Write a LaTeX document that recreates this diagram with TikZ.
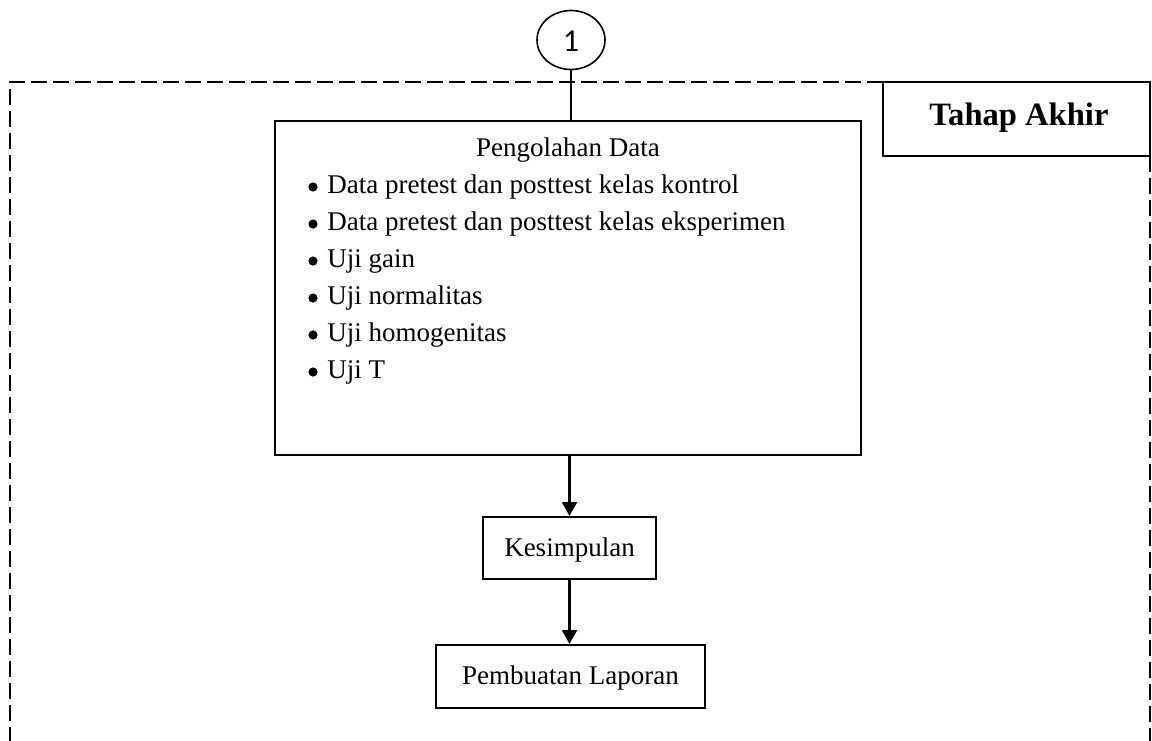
\documentclass[tikz,border=0pt]{standalone}
\usepackage{fontspec}
\setmainfont{Liberation Serif}
\newfontfamily\numfont{Carlito}
\usetikzlibrary{arrows.meta,shapes.geometric}
\begin{document}
\begin{tikzpicture}[x=0.5pt,y=-0.5pt,
  box/.style={draw,line width=1pt,inner sep=0pt},
  lbl/.style={font=\fontsize{13.5}{16}\selectfont,inner sep=0pt},
  item/.style={font=\fontsize{13.5}{16}\selectfont,inner sep=0pt,anchor=west},
  bul/.style={circle,fill,inner sep=0pt,minimum size=4.6pt},
  arr/.style={line width=1.2pt,-{Triangle[width=7.5pt,length=7pt]}},
  frame/.style={line width=1.3pt,dash pattern=on 8pt off 3pt}]
\useasboundingbox (0,0) rectangle (1152,740);
% dashed frame
\draw[frame] (883,82) -- (10,82) -- (10,745);
\draw[frame] (1150,156) -- (1150,745);
% Tahap Akhir box
\node[box,minimum width=133.5pt,minimum height=37pt] (tahap) at (1016.5,119) {};
\node[inner sep=0pt,font=\fontsize{16.3}{19}\selectfont\bfseries] (tahaptxt) at (1019,118) {Tahap Akhir};
% connector circle
\node[draw,ellipse,line width=0.8pt,minimum width=34pt,minimum height=29.5pt,inner sep=0pt] (c1) at (571,40) {};
\node[inner sep=0pt,font=\numfont\fontsize{16}{18}\selectfont] (c1txt) at (571,41) {1};
% main box
\node[box,minimum width=293pt,minimum height=167pt] (main) at (568,288) {};
\draw[line width=1pt] (c1.south) -- (c1.south |- main.north);
\node[lbl] (title) at (568,150) {Pengolahan Data};
\foreach \i/\t in {1/Data pretest dan posttest kelas kontrol,
                   2/Data pretest dan posttest kelas eksperimen,
                   3/Uji gain,
                   4/Uji normalitas,
                   5/Uji homogenitas,
                   6/Uji T}{
  \node[bul] (b\i) at (313,150+37*\i) {};
  \node[item] (t\i) at (327,150+37*\i) {\t};
}
% Kesimpulan
\node[box,minimum width=86.5pt,minimum height=31pt] (kes) at (569.5,548) {};
\node[lbl] (kestxt) at (569.5,550) {Kesimpulan};
% Pembuatan Laporan
\node[box,minimum width=134.5pt,minimum height=31.5pt] (lap) at (570.5,676.5) {};
\node[lbl] (laptxt) at (570.5,678) {Pembuatan Laporan};
\draw[arr] (main.south -| kes.north) -- (kes.north);
\draw[arr] (kes.south) -- (kes.south |- lap.north);
\end{tikzpicture}
\end{document}
